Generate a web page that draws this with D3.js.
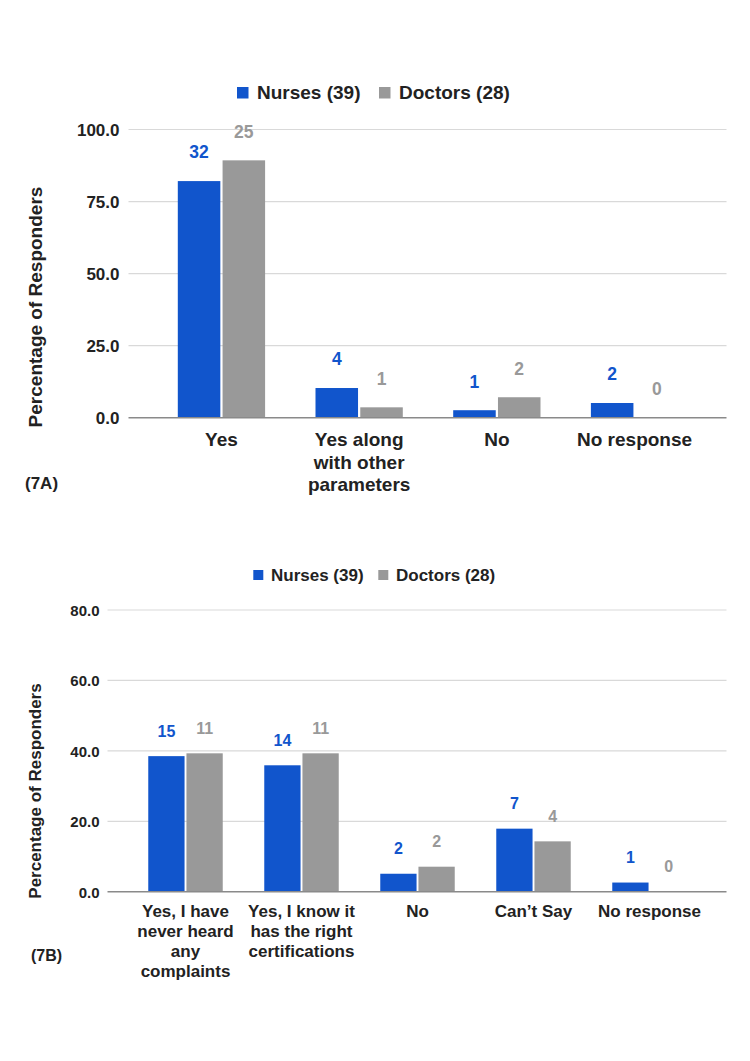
<!DOCTYPE html>
<html>
<head>
<meta charset="utf-8">
<script src="https://cdn.jsdelivr.net/npm/d3@7"></script>
<style>
  html, body { margin: 0; padding: 0; background: #fff; }
  svg { display: block; font-family: "Liberation Sans", Arial, Helvetica, sans-serif; }
</style>
</head>
<body>
<svg id="chart" width="750" height="1061"></svg>
<script>
// ---------- DATA ----------
const seriesNames = ["Nurses (39)", "Doctors (28)"];

// Chart 7A
const categoriesA = [["Yes"], ["Yes along", "with other", "parameters"], ["No"], ["No response"]];
const nursesPctA = [82.1, 10.3, 2.6, 5.1];
const doctorsPctA = [89.3, 3.6, 7.1, 0];
const nursesCountA = ["32", "4", "1", "2"];
const doctorsCountA = ["25", "1", "2", "0"];
const ticksA = [0, 25, 50, 75, 100];

// Chart 7B
const categoriesB = [["Yes, I have", "never heard", "any", "complaints"], ["Yes, I know it", "has the right", "certifications"], ["No"], ["Can\u2019t Say"], ["No response"]];
const nursesPctB = [38.5, 35.9, 5.1, 17.9, 2.6];
const doctorsPctB = [39.3, 39.3, 7.1, 14.3, 0];
const nursesCountB = ["15", "14", "2", "7", "1"];
const doctorsCountB = ["11", "11", "2", "4", "0"];
const ticksB = [0, 20, 40, 60, 80];

// ---------- STYLE ----------
const colors = ["#1155cc", "#999999"];
const textColor = "#222222";

const svg = d3.select("#chart");

function drawChart(cfg) {
  const g = svg.append("g");
  const y = d3.scaleLinear().domain(cfg.yDomain).range([cfg.y0, cfg.yTop]);
  const x = d3.scaleBand().domain(d3.range(cfg.cats.length))
    .range(cfg.xRange).paddingInner(cfg.padIn).paddingOuter(cfg.padIn / 2);
  const xs = d3.scaleBand().domain([0, 1]).range([0, x.bandwidth()]).paddingInner(0.05);

  // gridlines
  g.selectAll("line.grid").data(cfg.ticks.filter(t => t !== 0)).enter().append("line")
    .attr("x1", cfg.gridX[0]).attr("x2", cfg.gridX[1])
    .attr("y1", d => y(d)).attr("y2", d => y(d))
    .attr("stroke", "#d9d9d9").attr("stroke-width", 1.2);

  // y tick labels (via axis generator, domain/ticks hidden)
  const axis = d3.axisLeft(y).tickValues(cfg.ticks).tickFormat(d3.format(".1f")).tickSize(0).tickPadding(0);
  const ag = g.append("g").attr("transform", `translate(${cfg.tickX},0)`).call(axis);
  ag.select(".domain").remove();
  ag.selectAll("text")
    .attr("font-size", cfg.tickFont).attr("font-weight", "bold")
    .attr("fill", textColor).attr("dy", "0.36em")
    .style("font-family", '"Liberation Sans", Arial, sans-serif');

  // bars
  const series = [cfg.nurses, cfg.doctors];
  const counts = [cfg.nCount, cfg.dCount];
  series.forEach((vals, si) => {
    g.selectAll(null).data(vals).enter().append("rect")
      .attr("x", (d, i) => x(i) + xs(si))
      .attr("y", d => y(d))
      .attr("width", xs.bandwidth())
      .attr("height", d => y(0) - y(d))
      .attr("fill", colors[si]);
    g.selectAll(null).data(vals).enter().append("text")
      .attr("x", (d, i) => x(i) + xs(si) + xs.bandwidth() / 2)
      .attr("y", d => y(d) - cfg.labelGap)
      .attr("text-anchor", "middle")
      .attr("font-size", cfg.labelFont).attr("font-weight", "bold")
      .attr("fill", colors[si])
      .text((d, i) => counts[si][i]);
  });

  // baseline
  g.append("line")
    .attr("x1", cfg.gridX[0]).attr("x2", cfg.gridX[1])
    .attr("y1", y(0)).attr("y2", y(0))
    .attr("stroke", "#8a8a8a").attr("stroke-width", 1.6);

  // category labels
  const cl = g.selectAll(null).data(cfg.cats).enter().append("text")
    .attr("text-anchor", "middle")
    .attr("font-size", cfg.catFont).attr("font-weight", "bold")
    .attr("fill", textColor);
  cl.each(function (lines, i) {
    const t = d3.select(this);
    lines.forEach((ln, k) => {
      t.append("tspan").attr("x", x(i) + x.bandwidth() / 2)
        .attr("y", cfg.catY + k * cfg.catLH).text(ln);
    });
  });

  // y axis title
  g.append("text")
    .attr("transform", `translate(${cfg.titleX},${cfg.titleY}) rotate(-90)`)
    .attr("text-anchor", "middle")
    .attr("font-size", cfg.titleFont).attr("font-weight", "bold")
    .attr("fill", textColor)
    .text("Percentage of Responders");

  // legend
  const lg = g.append("g");
  cfg.legend.forEach((L, si) => {
    lg.append("rect").attr("x", L.sx).attr("y", cfg.legendSqY)
      .attr("width", cfg.legendSq).attr("height", cfg.legendSq).attr("fill", colors[si]);
    lg.append("text").attr("x", L.tx).attr("y", cfg.legendY)
      .attr("font-size", cfg.legendFont).attr("font-weight", "bold")
      .attr("fill", textColor).text(seriesNames[si]);
  });

  // panel tag
  g.append("text").attr("x", cfg.tagX).attr("y", cfg.tagY)
    .attr("font-size", cfg.tagFont).attr("font-weight", "bold")
    .attr("fill", textColor).text(cfg.tag);
}

drawChart({
  cats: categoriesA, nurses: nursesPctA, doctors: doctorsPctA,
  nCount: nursesCountA, dCount: doctorsCountA, ticks: ticksA,
  yDomain: [0, 100], y0: 417.7, yTop: 129.5,
  xRange: [152.6, 703.4], padIn: 0.366,
  gridX: [128.5, 726.5], tickX: 119.5, tickFont: 17,
  labelGap: 22.7, labelFont: 17.5,
  cats_: null, catFont: 19, catY: 446, catLH: 22.5,
  titleX: 42, titleY: 307, titleFont: 19,
  legend: [{ sx: 237, tx: 257 }, { sx: 379, tx: 399 }],
  legendSqY: 87, legendSq: 11.5, legendY: 99, legendFont: 19,
  tag: "(7A)", tagX: 25, tagY: 489, tagFont: 17
});

drawChart({
  cats: categoriesB, nurses: nursesPctB, doctors: doctorsPctB,
  nCount: nursesCountB, dCount: doctorsCountB, ticks: ticksB,
  yDomain: [0, 80], y0: 891.7, yTop: 610,
  xRange: [127.5, 707.5], padIn: 0.358,
  gridX: [107.5, 726.5], tickX: 99.5, tickFont: 15,
  labelGap: 19.5, labelFont: 16,
  catFont: 17, catY: 916.7, catLH: 20,
  titleX: 41, titleY: 791, titleFont: 17,
  legend: [{ sx: 253.3, tx: 271 }, { sx: 378.3, tx: 396 }],
  legendSqY: 570, legendSq: 10, legendY: 581, legendFont: 17,
  tag: "(7B)", tagX: 31, tagY: 961, tagFont: 16
});
</script>
</body>
</html>
